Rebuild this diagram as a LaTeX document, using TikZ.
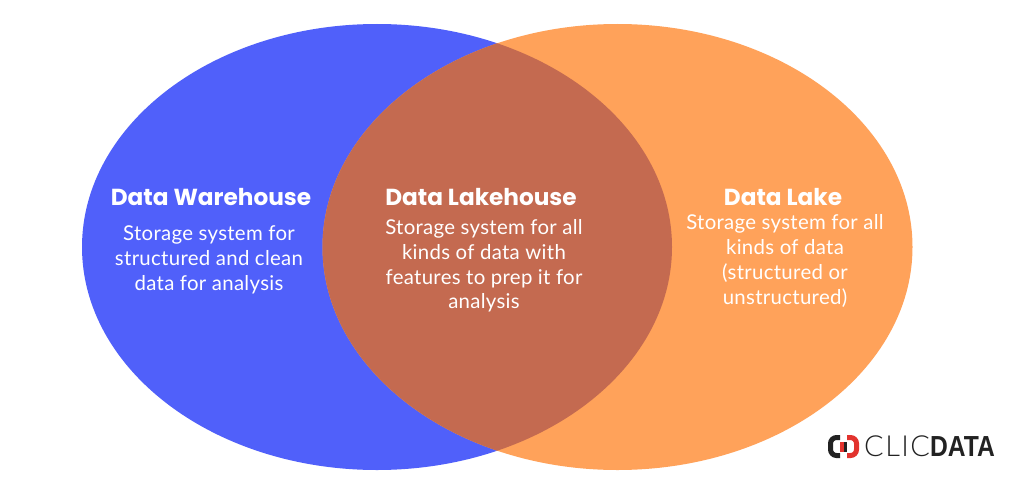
\documentclass[tikz,border=0pt]{standalone}
\usepackage{fontspec}
\setmainfont{Lato}[LetterSpace=1.5]
\newfontfamily\titlefont{Poppins}
\newfontfamily\logofont{Liberation Sans}
\newfontfamily\logolight{Lato Light}
\definecolor{bluec}{HTML}{5060FA}
\definecolor{orangec}{HTML}{FFA25A}
\definecolor{overlapc}{HTML}{C46A50}
\definecolor{logodark}{HTML}{222222}
\definecolor{logored}{HTML}{E2332E}
\tikzset{
  title/.style={text=white,font=\titlefont\fontsize{23.2}{26}\selectfont\bfseries,anchor=center,inner sep=0pt},
  body/.style={text=white,font=\fontsize{20.4}{24.7}\selectfont,align=center,anchor=center,inner sep=0pt},
  logoarc/.style={line width=5pt,line cap=butt}
}
\begin{document}
\begin{tikzpicture}[x=1pt,y=-1pt]
\useasboundingbox (0,0) rectangle (1024,495);
\fill[white] (0,0) rectangle (1024,495);
\fill[bluec] (377,247) ellipse [x radius=295,y radius=223];
\fill[orangec] (617.5,247) ellipse [x radius=295,y radius=223];
\begin{scope}
\clip (377,247) ellipse [x radius=295,y radius=223];
\fill[overlapc] (617.5,247) ellipse [x radius=295,y radius=223];
\end{scope}
\node[title] (wt) at (211,197) {Data Warehouse};
\node[title] (lht) at (481,197) {Data Lakehouse};
\node[title] (lt) at (783,197) {Data Lake};
\node[body] (wb) at (209,260) {Storage system for\\structured and clean\\data for analysis};
\node[body] (lhb) at (484,266) {Storage system for all\\kinds of data with\\features to prep it for\\analysis};
\node[body] (lb) at (785,261) {Storage system for all\\kinds of data\\(structured or\\unstructured)};
% logo
\draw[logodark,logoarc] (840,437.5) -- (836.5,437.5) arc[start angle=-90,end angle=-180,radius=6] -- (830.5,449.5) arc[start angle=180,end angle=90,radius=6] -- (840,455.5);
\draw[logored,logoarc] (847,437.5) -- (850.5,437.5) arc[start angle=-90,end angle=0,radius=6] -- (856.5,449.5) arc[start angle=0,end angle=90,radius=6] -- (847,455.5);
\fill[logored] (840,441.5) rectangle (843.5,451.5);
\fill[logodark] (843.5,441.5) rectangle (847,451.5);
\node[inner sep=0pt,anchor=west,text=logodark,font=\logolight\fontsize{29}{29}\selectfont] (clic) at (864,446.5) {\addfontfeature{LetterSpace=5}CLIC};
\node[inner sep=0pt,anchor=west,text=logodark,font=\logofont\bfseries\fontsize{29}{29}\selectfont,xscale=0.85,transform shape] (data) at (930,446.5) {DATA};
\end{tikzpicture}
\end{document}
